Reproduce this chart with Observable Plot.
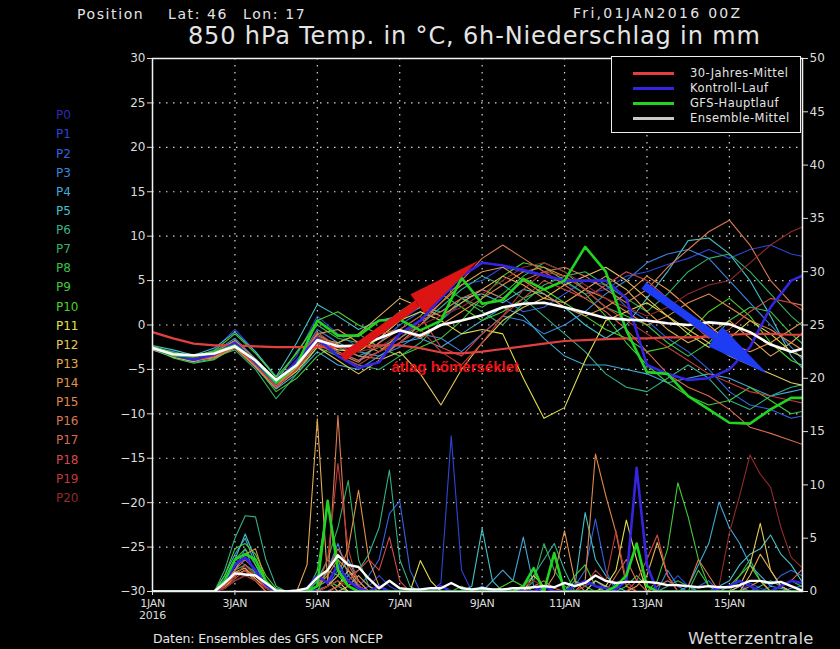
<!DOCTYPE html>
<html><head><meta charset="utf-8">
<script src="https://cdn.jsdelivr.net/npm/d3@7"></script>
<script src="https://cdn.jsdelivr.net/npm/@observablehq/plot@0.6"></script>
<style>
html,body{margin:0;padding:0;background:#000;}
#wrap{position:relative;width:840px;height:649px;overflow:hidden;background:#000;font-family:"DejaVu Sans",sans-serif;color:#e4e4e4;}
.t{position:absolute;white-space:pre;line-height:1;}
#wrap svg g[aria-label="x-axis tick label"] text{letter-spacing:-0.3px;}
</style></head><body><div id="wrap"></div>
<script>
// ---------- axes / categories ----------
const tempHours = d3.range(0, 385, 12);     // 12-hourly temperature values
const precipHours = d3.range(0, 379, 6);    // 6-hourly precipitation values
const dayTicks = [0, 2, 4, 6, 8, 10, 12, 14];
const dayLabels = ["1JAN", "3JAN", "5JAN", "7JAN", "9JAN", "11JAN", "13JAN", "15JAN"];
const yearLabel = "2016";
const tempTicks = [-30, -25, -20, -15, -10, -5, 0, 5, 10, 15, 20, 25, 30];
const precipTicks = [0, 5, 10, 15, 20, 25, 30, 35, 40, 45, 50];
const memberNames = ["P0","P1","P2","P3","P4","P5","P6","P7","P8","P9","P10","P11","P12","P13","P14","P15","P16","P17","P18","P19","P20"];
const memberColors = ["#2b2bb8","#2c46d6","#3264e0","#3a86e0","#40a8d8","#42c0c8","#34b08a","#32b066","#38c04a","#44c838","#4cd02a","#e2e04a","#e2c85a","#e2aa52","#e2944a","#e0884a","#d87a52","#d86a50","#d24a48","#c03a38","#942a2a"];
const legendLabels = ["30-Jahres-Mittel", "Kontroll-Lauf", "GFS-Hauptlauf", "Ensemble-Mittel"];

// ---------- 850 hPa temperature (°C), 12-hourly ----------
const tempP0 = [-2.6,-3.4,-3.9,-3.3,-2.0,-4.2,-6.6,-4.0,-1.5,-3.5,-4.8,-4.2,-1.0,0.5,3.0,5.5,7.0,6.7,6.2,5.6,5.0,5.0,5.0,3.0,-4.5,-5.5,-6.2,-6.0,-5.0,-2.5,2.0,5.0,6.0];
const tempP1 = [-2.4,-3.5,-3.7,-2.8,-0.5,-3.0,-6.0,-3.5,1.0,-1.0,-2.5,-1.5,0.5,2.0,3.5,4.5,5.0,6.5,6.0,5.5,4.8,3.5,4.0,5.5,6.0,6.8,7.5,8.5,7.5,8.5,9.0,8.0,7.5];
const tempP2 = [-2.7,-3.2,-4.0,-3.5,-2.2,-4.5,-7.0,-5.0,-2.0,-3.0,-4.0,-2.0,0.0,1.5,0.5,2.5,4.0,3.0,1.5,2.0,3.5,5.0,4.5,2.0,0.5,-1.5,-3.0,-5.0,-7.5,-9.0,-9.5,-10.5,-10.0];
const tempP3 = [-2.5,-3.0,-3.6,-3.0,-1.5,-3.8,-6.2,-4.2,-0.5,-2.0,-3.0,-3.5,-2.5,-1.0,-1.5,-3.0,-1.0,1.0,0.5,-1.0,0.0,1.5,3.5,5.0,7.0,8.0,8.5,7.5,5.0,2.5,0.0,-2.5,-5.0];
const tempP4 = [-2.8,-3.6,-4.2,-3.8,-2.5,-4.8,-7.2,-5.5,-3.0,-4.5,-5.0,-3.5,-2.0,-1.5,-2.5,-1.0,0.5,2.0,1.0,-1.5,-3.5,-4.5,-4.5,-5.0,-5.5,-6.5,-6.0,-5.5,-6.0,-7.0,-8.0,-7.5,-7.0];
const tempP5 = [-2.3,-2.8,-3.4,-2.6,-0.8,-3.0,-5.8,-2.0,2.3,1.0,-0.5,0.5,1.0,2.0,1.5,3.0,3.5,2.5,4.0,3.5,2.0,0.0,-1.5,0.0,3.0,6.0,9.5,9.8,8.0,5.0,1.0,-3.5,-6.0];
const tempP6 = [-2.6,-3.3,-3.8,-3.4,-2.0,-4.0,-6.8,-4.5,-1.0,-2.5,-3.5,-2.5,-1.5,0.0,2.0,4.0,5.5,4.5,3.0,1.0,-1.0,-3.0,-5.5,-7.0,-7.5,-6.0,-4.5,-6.0,-8.5,-9.5,-8.0,-7.0,-6.5];
const tempP7 = [-2.4,-3.5,-4.0,-3.6,-2.8,-5.0,-8.3,-5.5,-2.5,-3.5,-4.5,-5.0,-3.5,-2.0,0.5,3.0,1.5,0.0,2.5,4.5,5.5,6.0,4.5,3.0,1.5,3.5,6.0,7.5,8.0,6.0,3.5,1.0,-1.0];
const tempP8 = [-2.5,-3.4,-3.7,-3.2,-1.8,-4.2,-6.4,-3.0,0.0,-1.5,-2.0,-0.5,1.5,3.0,4.5,3.0,2.0,3.5,5.5,7.0,6.0,4.0,2.0,1.0,0.0,-2.0,-3.5,-2.0,0.5,2.0,1.5,-1.0,-3.0];
const tempP9 = [-2.7,-3.7,-4.3,-3.9,-2.5,-4.6,-7.5,-6.0,-3.5,-2.0,-1.0,-2.5,-3.5,-2.5,-1.5,0.5,3.0,5.5,7.0,6.5,5.0,3.5,1.0,-2.0,-4.5,-6.5,-8.0,-9.0,-8.5,-7.0,-8.5,-10.0,-9.5];
const tempP10 = [-2.4,-3.1,-3.5,-2.9,-1.0,-3.2,-5.9,-3.2,0.5,1.5,0.0,-1.0,-0.5,1.0,3.5,2.0,0.5,1.5,3.0,4.0,2.5,1.0,-0.5,-1.5,-3.0,-2.5,-1.0,1.5,3.0,1.0,-2.0,-4.0,-5.0];
const tempP11 = [-2.6,-3.2,-3.6,-3.3,-2.2,-4.3,-6.7,-4.8,-1.8,-2.8,-3.0,-1.5,0.5,1.5,0.5,-1.0,-0.5,-1.0,-6.0,-10.5,-9.3,-4.0,0.5,1.5,2.5,1.0,-1.0,-2.5,-1.5,0.5,-1.0,-3.0,-4.0];
const tempP12 = [-2.5,-3.6,-4.1,-3.5,-2.4,-4.6,-7.0,-5.2,-2.5,-4.0,-5.5,-4.0,-3.0,-5.5,-9.0,-5.0,-2.0,0.5,2.0,3.0,4.5,5.5,6.5,5.0,3.0,1.0,-0.5,-2.0,-3.5,-4.5,-5.5,-6.5,-7.0];
const tempP13 = [-2.8,-3.4,-3.9,-3.6,-2.3,-4.4,-6.9,-4.8,-1.5,-2.0,-1.0,1.0,3.0,2.0,1.0,2.5,4.0,5.5,4.5,3.0,2.5,4.0,5.5,4.0,1.5,-0.5,-2.0,-1.0,0.5,-1.5,-3.5,-2.0,0.0];
const tempP14 = [-2.5,-3.3,-3.8,-3.1,-1.7,-3.9,-6.3,-4.0,-1.0,-0.5,-2.0,-3.0,-1.0,0.5,2.5,4.5,6.0,6.5,5.0,3.5,2.0,1.0,2.0,3.5,5.5,4.0,2.0,0.0,-2.0,-3.0,-2.0,-0.5,1.0];
const tempP15 = [-2.6,-3.5,-4.0,-3.7,-2.6,-4.7,-7.1,-5.0,-2.2,-3.2,-4.2,-2.0,-0.5,-1.5,0.0,1.5,3.0,4.5,6.0,6.5,5.5,4.0,3.0,1.5,0.0,1.0,2.5,3.5,2.0,0.5,-0.5,-2.0,-3.5];
const tempP16 = [-2.7,-3.2,-3.7,-3.2,-2.0,-4.1,-6.6,-4.4,-1.2,-2.2,-3.5,-3.8,-2.0,0.0,2.5,5.0,7.5,9.0,7.5,6.0,6.5,5.5,4.0,2.5,4.0,6.5,8.5,10.5,11.8,9.0,5.0,2.5,2.0];
const tempP17 = [-2.4,-3.4,-3.9,-3.4,-2.1,-4.4,-6.9,-4.6,-1.4,-3.0,-4.0,-3.0,-1.5,0.5,1.5,3.0,4.0,3.0,5.0,6.0,4.5,3.0,1.5,-0.5,-3.0,-5.5,-7.0,-8.0,-9.5,-11.5,-12.2,-13.0,-13.8];
const tempP18 = [-2.5,-3.3,-3.8,-3.3,-1.9,-4.2,-6.5,-4.2,-0.8,-2.5,-2.5,-1.0,-0.5,1.0,-2.5,-3.5,-1.0,1.0,3.0,5.0,4.0,3.0,4.5,6.0,5.0,3.0,0.5,-1.5,-0.5,1.5,3.0,2.5,1.0];
const tempP19 = [-2.6,-3.5,-4.0,-3.5,-2.4,-4.5,-7.0,-5.0,-2.0,-3.5,-4.5,-3.0,-2.0,-0.5,-3.0,-4.5,-2.0,1.0,4.0,6.0,5.5,4.0,2.0,0.5,-1.0,-2.5,-4.0,-5.5,-6.5,-7.5,-8.0,-8.5,-9.0];
const tempP20 = [-2.5,-3.2,-3.7,-3.1,-2.0,-4.0,-6.4,-4.3,-1.3,-2.5,-3.0,-2.5,-1.0,0.0,1.0,2.0,3.5,5.0,6.5,7.0,6.0,4.5,3.0,2.0,1.0,2.0,3.5,4.5,5.0,7.0,9.0,10.5,11.5];
const tempGFS = [-2.5,-3.4,-3.5,-3.1,-2.3,-4.0,-6.5,-4.5,0.5,-1.2,-1.2,0.5,0.6,-0.6,0.5,5.3,2.4,2.8,5.2,4.0,5.0,8.8,6.0,-0.6,-5.3,-5.5,-8.0,-9.5,-11.0,-11.1,-9.5,-8.2,-8.2];
const tempMean = [-2.6,-3.3,-3.4,-3.2,-2.4,-4.0,-6.2,-4.5,-1.7,-2.4,-2.3,-1.5,-0.6,-1.2,0.0,0.5,1.1,2.0,2.4,2.5,2.0,1.4,0.8,0.6,0.5,0.2,0.0,0.3,0.1,-0.8,-2.2,-3.0,-2.4];
const tempClim = [-0.8,-1.5,-2.1,-2.3,-2.3,-2.4,-2.5,-2.5,-2.5,-2.5,-2.4,-2.3,-2.3,-2.6,-3.1,-3.2,-3.0,-2.7,-2.4,-2.1,-1.8,-1.7,-1.6,-1.5,-1.5,-1.4,-1.4,-1.3,-1.1,-1.0,-1.0,-1.1,-1.1];

// ---------- 6h precipitation (mm), 6-hourly ----------
const precipP0 = [0,0,0,0, 0,0,0,0.8, 2.5,3.2,2.0,0.6, 0,0,0,0.3, 1.5,0.8,2.5,1.0, 0.3,0,0.5,0, 0,0,0,0, 0.5,0,0,0, 0,0.2,0,0, 0,0,0.5,0, 0,0.5,1.0,0.5, 0.3,0.2,1.0,11.6, 2.5,0,0,0, 0,0,0,0.3, 0.5,1.0,0.5,0, 0,0.5,1.0,0.8];
const precipP1 = [0,0,0,0, 0,0,0,1.2, 3.0,2.5,1.5,0.5, 0,0,0,0, 0.5,1.0,0.5,0, 0,0.5,1.5,0.5, 0,0,0,0, 0.8,14.6,2.0,0, 0,0,0,0, 0,0.5,0,0, 0,0,0.5,1.0, 0.5,0,0,0, 0,0,0.5,1.5, 0.5,0,0,0, 0,0,0.8,0.3, 0,0,0,0];
const precipP2 = [0,0,0,0, 0,0,0,0.5, 1.5,2.0,1.0,0.3, 0,0,0,0, 0.2,0.5,2.0,1.0, 0.5,1.5,3.0,7.3, 8.5,2.0,0,0, 0,0,0,0, 0,0,0,0.3, 0,0,0,0, 0,0.5,2.0,6.8, 2.0,0,0,0, 0,0,0,0, 0,0.5,1.0,0, 0,0,0,0, 0.5,1.5,2.0,1.5];
const precipP3 = [0,0,0,0, 0,0,0,0.8, 2.0,4.0,1.5,0.3, 0,0,0,0, 0.5,2.0,4.5,1.5, 0.5,0,0,0, 0,0,0,0, 0,0,0,0, 0.5,0,0,0, 0,0,0,0, 0,0,0,1.0, 0.3,0,0,0, 0,0,2.0,0.5, 0,0,0,0, 0,0.5,0,0, 0,0,0.3,0.5];
const precipP4 = [0,0,0,0, 0,0,0,1.5, 3.5,5.0,2.5,0.5, 0,0,0,0, 1.0,3.0,2.0,0.5, 0,0,0.5,0, 0,0,0,0, 0,0,0,0, 0,1.0,2.0,1.0, 5.1,0.5,0,0, 0,0,0,0, 0,0,0,0, 0,0,0,0, 0.5,2.5,4.5,8.4, 6.0,4.5,2.5,1.5, 0.5,0.3,0,0];
const precipP5 = [0,0,0,0, 0,0,0,1.0, 3.0,5.4,3.0,0.8, 0,0,0,0, 0,0.5,1.5,3.0, 1.0,0,0,0, 0,0,0,0, 0,0,0,0.5, 5.9,1.0,0,0, 0,0,0,0, 0,0.5,7.4,3.0, 1.5,0.5,0,0, 0,0,0,0, 0,0,0,0.5, 1.0,2.5,3.5,4.0, 5.3,3.5,2.5,1.0];
const precipP6 = [0,0,0,0, 0,0,0,2.0, 5.0,7.1,7.0,3.0, 0.5,0,0,0, 0,0,0.5,1.5, 2.0,3.5,6.0,11.4, 3.0,0.5,0,0, 0,0,0,0, 0,0,0,0, 0.5,1.5,3.0,4.5, 2.0,0,0,0, 0,0,0,0, 0,0,0,0, 0,0,0,0, 0,0,0,0.5, 1.0,0.5,0,0];
const precipP7 = [0,0,0,0, 0,0,0,0.5, 2.0,2.5,1.8,0.5, 0,0,0,0, 1.0,3.0,6.0,10.4, 3.0,0.5,0,0, 0,0,0,0, 0,0,0,0, 0,0,0,0, 0,1.0,4.5,2.0, 0.5,0,0,0, 0,0,0,0, 0,0,0.5,1.0, 0.5,0,0,0, 0,1.5,3.0,1.0, 0,0,0,0];
const precipP8 = [0,0,0,0, 0,0,0,0.8, 2.5,3.0,2.0,0.5, 0,0,0,0, 2.0,8.3,3.0,0.5, 0,0,0,0, 0,0,0,0, 0,0,0.5,0, 0,0,0,0, 0,0,0,0, 0,1.0,0.5,0, 0,0,0.5,1.5, 0.5,0,0,0, 0,2.0,0.5,0, 0,0,0,0, 0,0.5,1.0,0.5];
const precipP9 = [0,0,0,0, 0,0,0,1.0, 3.0,4.0,2.5,1.0, 0,0,0,0, 0.5,1.0,0.5,0, 0,0,0,0, 0,0,0,0, 0,0,0,0, 0,0,0,0, 0,0,0,0, 0,0,0,0, 0,0,0,0, 0,1.0,4.0,10.2, 7.0,3.0,0.5,0, 0,0,0,0, 0,0,0,0];
const precipP10 = [0,0,0,0, 0,0,0,1.5, 4.0,4.5,3.5,1.5, 0.3,0,0,0, 0,2.0,1.5,0.5, 0,0,0,0, 0,0,0,0, 0,0,0,0, 0,0,0.5,1.0, 0.5,0,0,0, 0,1.5,2.5,0.5, 0,0,0,0, 0,0,0,0, 0,0,0,0, 0.5,1.5,2.5,1.0, 0,0,0,0];
const precipP11 = [0,0,0,0, 0,0,0,0.3, 1.5,2.0,1.0,0, 0,0,0,0, 0,0.5,1.0,0, 0,0,0,0, 0,0,2.9,1.0, 0,0,0,0, 0,0,0,0, 0,0,0,0, 0,0,0,0, 0.5,2.0,6.7,3.0, 0,0,0,0, 0,0,0,0, 0,0,0,0, 0,0,0,0];
const precipP12 = [0,0,0,0, 0,0,0,0.5, 1.8,2.2,1.2,0.3, 0,0,0,0, 0,0,0.5,2.0, 1.0,0,0,0, 0,0,0,0, 0,0,0,0, 0,0,0,0, 0,1.5,0.5,0, 0,0,0,1.0, 0.5,0,0,0, 0,0,0,0, 0,0,0,0, 0,0.5,2.5,6.4, 2.0,0.5,0,0];
const precipP13 = [0,0,0,0, 0,0,0,0.5, 1.5,2.5,1.5,0.5, 0,0,0,2.5, 16.2,1.0,0,0.5, 1.5,0.5,0,0, 0,0,0,0, 0,0,0,0, 0,0,0,0, 0,0,0,0, 0,0,0,0, 0,0,0,0.5, 1.5,4.6,1.5,0, 0,0,0,0, 0,0,1.5,3.5, 2.0,0.5,0,0];
const precipP14 = [0,0,0,0, 0,0,0,0.8, 2.0,3.5,4.0,1.0, 0,0,0,0, 0,0.5,1.5,4.0, 9.5,3.0,0.5,0, 0,0,0,0, 0,0,0,0, 0,0,0,0, 0,0,0,1.5, 5.7,1.0,0,0, 0,0,0,0, 0,0,0,0, 0,0,0,0, 0,0,0.5,1.0, 0,0,0,0];
const precipP15 = [0,0,0,0, 0,0,0,0.5, 1.5,2.0,1.5,0.5, 0,0,0,0, 0.5,1.5,3.0,2.0, 0.5,0,0,0, 0,0,0,0, 0,0,0,0, 0,0,0,0, 0,0,0,0, 0,0,1.0,12.9, 9.0,5.5,0.5,0, 0,0,0,0, 0,0,0,0, 0,0,0,0, 0,0,0,0];
const precipP16 = [0,0,0,0, 0,0,0,0.3, 1.0,1.5,1.0,0.3, 0,0,0,0, 0,0.5,16.5,2.0, 0.5,0,0,0, 0,0,0,0, 0,0,0,0, 0,0,0,0, 0,0,0,0, 0,0,0,0, 0,0,0,0, 0,0.5,1.0,0.5, 0.5,3.0,1.5,0, 0,0,0,0, 0,0,0,0];
const precipP17 = [0,0,0,0, 0,0,0,0.5, 2.0,3.0,2.0,0.5, 0,0,0,0, 0.5,2.0,4.0,2.5, 1.0,0,0,0, 0,0,0,0, 0,0,0,0, 0,0,0,0, 0,0.5,1.0,0.3, 0,0,0,0, 0,1.5,3.0,1.0, 0,0,0,0, 0,0,0,0, 0,0,0,0, 0,0.5,1.0,2.0];
const precipP18 = [0,0,0,0, 0,0,0,0.3, 1.2,2.0,1.0,0, 0,0,0,0, 0,0,0.5,1.0, 2.0,3.0,2.0,5.1, 1.0,0,0,0, 0,0,0,0, 0,0,0,0, 0,0,0,0, 0,0,0,0, 0,0,0,1.0, 3.0,5.3,1.5,0, 0,0,0,0, 0,0,0,0, 0,0,0,0];
const precipP19 = [0,0,0,0, 0,0,0,0.5, 1.5,2.5,1.5,0.3, 0,0,0,0, 0.5,3.0,12.0,4.0, 0.5,0,0,0, 0,0,0,0, 0,0,0,0, 0,0,0,0, 0,0,0,0, 0,0,0.5,2.0, 1.0,5.7,1.0,0, 0,0,0,0, 0,0,0,0, 0,0,0,0, 0,0,0,0];
const precipP20 = [0,0,0,0, 0,0,0,0.3, 1.0,1.5,1.0,0.3, 0,0,0,0, 0,0.5,1.0,0.5, 0,0,0,0, 0,0,0,0, 0,0,0,0, 0,0,0,0, 0.5,1.0,0.5,0, 0,0,0,0, 0,0,0,0, 0,0,0,0, 0,0,0,0.5, 5.5,9.0,12.8,11.0, 9.8,6.0,3.2,2.3];
const precipGFS = [0,0,0,0, 0,0,0,1.0, 3.0,3.5,3.0,1.0, 0,0,0,0, 0.5,8.5,2.0,0.5, 0,0,0,0, 0,0,0,0, 0,0,0,0, 0,0,0,0, 0.5,2.2,0,3.6, 0,0,0,0, 0,0.5,1.5,4.5, 0.5,0,0,0, 0,0,0,0, 0,0,0,0, 0,0,0,0];
const precipMean = [0,0,0,0, 0,0,0,0.8, 1.7,1.6,1.5,0.8, 0.1,0,0.1,0.3, 1.3,2.0,3.4,2.5, 2.3,1.2,0.3,1.0, 0.3,0.2,0.2,0.3, 0.3,0.8,0.3,0.2, 0.3,0.2,0.2,0.3, 0.3,0.4,0.5,0.4, 0.8,0.5,0.8,1.5, 1.0,0.8,0.9,0.9, 0.9,0.8,0.6,0.6, 0.5,0.4,0.5,0.4, 0.4,0.6,1.0,1.0, 0.8,0.9,0.5,0.1];

// ---------- annotations (data coordinates: hours, °C) ----------
const redArrowH = [110.7, 154.2, 189.9];   // tail, head base, tip
const redArrowT = [-3.66, 2.39, 7.26];
const blueArrowH = [286.2, 327.8, 358.1];
const blueArrowT = [4.45, -1.29, -5.49];
const noteText = ["átlag hőmérséklet"];
const noteH = [139.2];
const noteT = [-4.8];

// ---------- build ----------
const memberTemp = [tempP0,tempP1,tempP2,tempP3,tempP4,tempP5,tempP6,tempP7,tempP8,tempP9,tempP10,tempP11,tempP12,tempP13,tempP14,tempP15,tempP16,tempP17,tempP18,tempP19,tempP20];
const memberPrecip = [precipP0,precipP1,precipP2,precipP3,precipP4,precipP5,precipP6,precipP7,precipP8,precipP9,precipP10,precipP11,precipP12,precipP13,precipP14,precipP15,precipP16,precipP17,precipP18,precipP19,precipP20];
const rows = (vals, hours) => vals.map((v, i) => ({h: hours[i], v}));
const mmToY = mm => -30 + mm * 60 / 50;   // right axis 0..50 mm onto left axis -30..30 °C

const CONTROL = "#3524e0", GFS = "#22d422", MEAN = "#ffffff", CLIM = "#e24040";
const marks = [];
const gridStyle = {stroke: "#e0e0e0", strokeOpacity: 0.95, strokeWidth: 1.2, strokeDasharray: "1.5,5.5"};
marks.push(Plot.gridX(dayTicks.slice(1).map(d => d * 24), gridStyle));
marks.push(Plot.gridY(tempTicks.slice(1, -1), gridStyle));
for (let i = 1; i <= 20; i++) {
  marks.push(Plot.line(rows(memberPrecip[i], precipHours), {x: "h", y: d => mmToY(d.v), stroke: memberColors[i], strokeWidth: 1.1, clip: true}));
}
for (let i = 1; i <= 20; i++) {
  marks.push(Plot.line(rows(memberTemp[i], tempHours), {x: "h", y: "v", stroke: memberColors[i], strokeWidth: 1.1, clip: true}));
}
marks.push(Plot.line(rows(tempClim, tempHours), {x: "h", y: "v", stroke: CLIM, strokeWidth: 2.2, clip: true}));
marks.push(Plot.line(rows(memberPrecip[0], precipHours), {x: "h", y: d => mmToY(d.v), stroke: CONTROL, strokeWidth: 2.6, clip: true}));
marks.push(Plot.line(rows(memberTemp[0], tempHours), {x: "h", y: "v", stroke: CONTROL, strokeWidth: 2.6, clip: true}));
marks.push(Plot.line(rows(precipGFS, precipHours), {x: "h", y: d => mmToY(d.v), stroke: GFS, strokeWidth: 2.6, clip: true}));
marks.push(Plot.line(rows(tempGFS, tempHours), {x: "h", y: "v", stroke: GFS, strokeWidth: 2.6, clip: true}));
marks.push(Plot.line(rows(precipMean, precipHours), {x: "h", y: d => mmToY(d.v), stroke: MEAN, strokeWidth: 2.4, clip: true}));
marks.push(Plot.line(rows(tempMean, tempHours), {x: "h", y: "v", stroke: MEAN, strokeWidth: 2.6, clip: true}));
marks.push(Plot.frame({stroke: "#f2f2f2", strokeWidth: 1.5}));
marks.push(Plot.axisY(tempTicks, {anchor: "left", tickSize: 5, tickPadding: 2, fontSize: 12, label: null}));
marks.push(Plot.axisY(precipTicks.map(mmToY), {anchor: "right", tickSize: 5, tickPadding: 2, fontSize: 12, label: null,
  tickFormat: v => String(Math.round((v + 30) * 50 / 60))}));
marks.push(Plot.axisX(dayTicks.map(d => d * 24), {anchor: "bottom", tickSize: 4, tickPadding: 4, fontSize: 11, label: null,
  tickFormat: h => dayLabels[dayTicks.indexOf(h / 24)]}));

function headSymbol(len, wid, angleDeg) {
  const a = angleDeg * Math.PI / 180, c = Math.cos(a), s = Math.sin(a);
  const rot = (x, y) => [x * c - y * s, x * s + y * c];
  return {draw(ctx) {
    const p0 = rot(0, 0), p1 = rot(-wid / 2, len), p2 = rot(wid / 2, len);
    ctx.moveTo(p0[0], p0[1]); ctx.lineTo(p1[0], p1[1]); ctx.lineTo(p2[0], p2[1]); ctx.closePath();
  }};
}
function arrowMarks(H, T, color, shaftW, headLen, headW, angle) {
  return [
    Plot.link([0], {x1: () => H[0], y1: () => T[0], x2: () => H[1], y2: () => T[1], stroke: color, strokeWidth: shaftW, strokeLinecap: "butt"}),
    Plot.dot([0], {x: () => H[2], y: () => T[2], r: 10, symbol: headSymbol(headLen, headW, angle), fill: color, stroke: "none"})
  ];
}
marks.push(...arrowMarks(redArrowH, redArrowT, "#dc1414", 8, 75, 24, 54.5));
marks.push(...arrowMarks(blueArrowH, blueArrowT, "#1f3cf5", 8, 64, 24, 125.6));
marks.push(Plot.text(noteText, {x: (d, i) => noteH[i], y: (d, i) => noteT[i], text: d => d, textAnchor: "start",
  fill: "#ee1515", fontWeight: "bold", fontSize: 15, fontFamily: "Liberation Sans, Arial, sans-serif"}));

const chart = Plot.plot({
  width: 840, height: 649,
  marginLeft: 152, marginRight: 38, marginTop: 58, marginBottom: 58,
  x: {domain: [0, 378.6]},
  y: {domain: [-30, 30]},
  style: {background: "#000", color: "#dcdcdc", fontFamily: "DejaVu Sans, sans-serif", fontSize: "12px"},
  marks
});
const wrap = document.getElementById("wrap");
wrap.appendChild(chart);

// ---------- text around the chart ----------
function addText(str, left, top, size, extra = {}) {
  const el = document.createElement("div");
  el.className = "t";
  el.textContent = str;
  Object.assign(el.style, {left: left + "px", top: top + "px", fontSize: size + "px"}, extra);
  wrap.appendChild(el);
  return el;
}
addText("Position", 77, 6.7, 14, {letterSpacing: "1.6px"});
addText("Lat: 46", 168, 6.7, 14, {letterSpacing: "1.6px"});
addText("Lon: 17", 243, 6.7, 14, {letterSpacing: "1.6px"});
addText("Fri,01JAN2016 00Z", 573, 6.2, 14, {letterSpacing: "2.3px"});
addText("850 hPa Temp. in °C, 6h-Niederschlag in mm", 188, 24.2, 24, {letterSpacing: "0.85px"});
addText(yearLabel, 132.5, 609.7, 11, {width: "40px", textAlign: "center", letterSpacing: "-0.3px", color: "#dcdcdc"});
addText("Daten: Ensembles des GFS von NCEP", 153, 632.7, 12.5, {letterSpacing: "-0.1px"});
addText("Wetterzentrale", 688, 631, 16.5, {letterSpacing: "0.2px", color: "#d8d8d8"});
memberNames.forEach((n, i) => {
  const c = 115 + i * 19.13;
  addText(n, 56, c - 5.75, 12, {color: memberColors[i]});
});

// legend box
const lg = document.createElement("div");
Object.assign(lg.style, {position: "absolute", left: "611px", top: "56px", width: "188px", height: "75px",
  border: "1.5px solid #eeeeee", background: "#000"});
wrap.appendChild(lg);
const legendColors = [CLIM, CONTROL, GFS, "#c8c8c8"];
legendLabels.forEach((lab, i) => {
  const cy = 73.3 + i * 15;
  const sw = document.createElement("div");
  Object.assign(sw.style, {position: "absolute", left: "633px", top: (cy - 1.5) + "px", width: "41px", height: "3px", background: legendColors[i]});
  wrap.appendChild(sw);
  addText(lab, 690, cy - 5.6, 11.5, {letterSpacing: "0.45px"});
});
</script></body></html>
